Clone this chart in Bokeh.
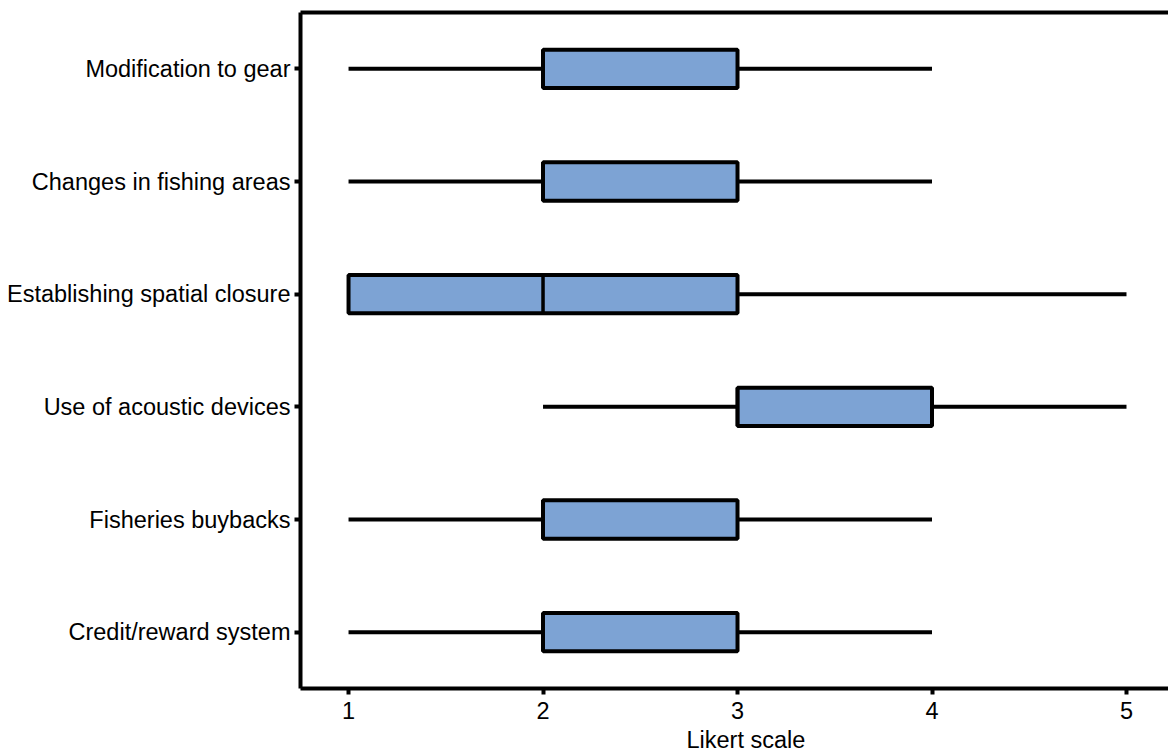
from bokeh.plotting import figure
from bokeh.models import Range1d, FactorRange, LinearAxis, FixedTicker, ColumnDataSource, Title
from bokeh.embed import file_html
from bokeh.resources import INLINE

categories = ["Modification to gear", "Changes in fishing areas", "Establishing spatial closure",
              "Use of acoustic devices", "Fisheries buybacks", "Credit/reward system"]
mins = [1, 1, 1, 2, 1, 1]
q1s = [2, 2, 1, 3, 2, 2]
medians = [2, 2, 2, 3, 2, 2]
q3s = [3, 3, 3, 4, 3, 3]
maxs = [4, 4, 5, 5, 4, 4]
x_ticks = [1, 2, 3, 4, 5]
x_title = "Likert scale"

FONT = "Liberation Sans"
FS = "23.5px"
BOX_COLOR = "#7DA3D4"

src = ColumnDataSource(dict(cat=categories, lo=mins, q1=q1s, med=medians, q3=q3s, hi=maxs))

p = figure(width=1168, height=755, output_backend="svg", toolbar_location=None,
           x_range=Range1d(0.753, 5.216), y_range=FactorRange(factors=categories[::-1]),
           min_border_left=300, min_border_right=0, min_border_top=12, min_border_bottom=0)
p.outline_line_color = None
p.xgrid.grid_line_color = None
p.ygrid.grid_line_color = None
p.background_fill_color = "white"

p.segment(x0="lo", y0="cat", x1="hi", y1="cat", source=src, line_color="black", line_width=4)
p.hbar(y="cat", left="q1", right="q3", height=0.34, source=src, fill_color=BOX_COLOR,
       line_color="black", line_width=4)
p.hbar(y="cat", left="med", right="med", height=0.34, source=src, fill_color=None,
       line_color="black", line_width=3.5)

for ax in (p.xaxis[0], p.yaxis[0]):
    ax.axis_line_width = 4
    ax.axis_line_color = "black"
    ax.major_tick_line_width = 4
    ax.major_tick_line_color = "black"
    ax.major_tick_in = 0
    ax.major_tick_out = 6
    ax.minor_tick_line_color = None
    ax.major_label_text_font = FONT
    ax.major_label_text_font_size = FS
    ax.major_label_text_color = "black"

p.xaxis.ticker = FixedTicker(ticks=x_ticks)
p.xaxis.major_label_standoff = 7
p.yaxis.major_label_standoff = 4

# axis title (the original's frame continues past the right edge, so its title sits right of centre)
p.add_layout(Title(text=x_title, align="left", offset=386, text_font=FONT, text_font_size=FS,
                   text_font_style="normal", text_color="black", standoff=6), "below")

top = LinearAxis(ticker=FixedTicker(ticks=[]), axis_line_width=4, axis_line_color="black",
                 major_tick_line_color=None, minor_tick_line_color=None,
                 major_label_text_font_size="0px", major_tick_out=0, major_tick_in=0,
                 major_label_standoff=0)
p.add_layout(top, "above")

open("out.html", "w").write(file_html(p, INLINE))
